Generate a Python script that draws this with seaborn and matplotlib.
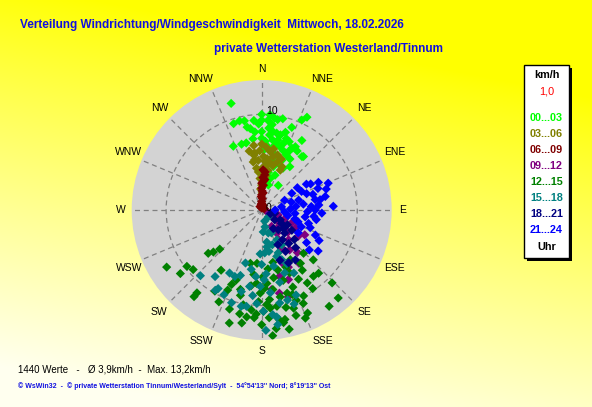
import numpy as np
import pandas as pd
import matplotlib
matplotlib.use("Agg")
import matplotlib.pyplot as plt
import seaborn as sns
from matplotlib.patches import Rectangle

# hour groups and their colours (as in the legend)
hour_labels = ["00...03", "03...06", "06...09", "09...12",
               "12...15", "15...18", "18...21", "21...24"]
hour_colors = ["#00ff00", "#808000", "#800000", "#800080",
               "#008000", "#008080", "#000080", "#0000ff"]
compass = ["N", "NNE", "NE", "ENE", "E", "ESE", "SE", "SSE",
           "S", "SSW", "SW", "WSW", "W", "WNW", "NW", "NNW"]

# wind direction (deg) and speed (km/h) per hour group
dir_00 = [344, 342, 346, 349, 350, 355, 0, 5, 0, 4, 10, 13, 24, 26, 336, 343, 347, 353, 355, 0,
          0, 5, 8, 11, 14, 13, 19, 26, 28, 30, 37, 33, 27, 34, 22, 14, 9, 4, 15, 15,
          38, 31, 15, 6, 9, 12, 16, 18, 20, 7, 3, 17, 22, 24, 19, 11, 25, 20, 352, 358,
          2, 29, 10, 21, 8]
spd_00 = [11.6, 9.5, 9.6, 9.5, 8.8, 9.4, 10.0, 10.0, 9.4, 9.4, 9.6, 9.8, 10.3, 10.8, 7.3, 7.2, 7.2, 7.5, 8.2, 8.2,
          7.5, 8.6, 8.3, 8.2, 8.1, 7.5, 7.9, 7.2, 7.5, 8.4, 7.0, 5.4, 4.9, 3.1, 5.6, 5.9, 6.5, 6.8, 4.7, 3.4,
          7.1, 7.2, 2.7, 7.9, 7.4, 7.0, 6.9, 7.3, 6.6, 9.0, 7.2, 8.5, 7.7, 6.3, 5.2, 5.3, 6.8, 9.2, 8.6, 9.0,
          6.3, 6.1, 4.0, 3.9, 9.7]

dir_03 = [353, 353, 4, 8, 12, 25, 353, 357, 0, 356, 4, 9, 350, 25, 352, 358, 2, 6, 10, 355,
          1, 14, 18, 359, 3, 7, 352, 348, 0, 5, 16, 357, 2, 21, 11]
spd_03 = [6.8, 6.0, 6.6, 6.2, 5.7, 4.6, 4.4, 3.3, 2.6, 5.2, 5.1, 4.2, 5.1, 5.0, 5.3, 6.2, 5.6, 5.4, 5.0, 4.0,
          4.4, 4.8, 5.3, 3.8, 3.0, 3.6, 5.8, 6.3, 6.9, 4.6, 6.0, 2.2, 1.8, 5.7, 6.5]

dir_06 = [2, 5, 3, 0, 0, 0, 5, 5, 333, 0, 0, 90, 2, 1, 3, 355, 4, 6, 358, 0, 20, 60]
spd_06 = [4.2, 3.7, 3.0, 2.3, 1.6, 0.9, 4.0, 1.8, 0.4, 2.8, 0.7, 0.4, 3.4, 2.0, 1.2, 0.6, 2.6, 3.2, 1.4, 0.2, 0.5, 0.3]

dir_09 = [107, 114, 126, 145, 159, 159, 173, 149, 147, 120, 116, 106, 130, 138, 152, 155, 140, 118, 165, 134,
          125, 150, 163, 168, 145, 110, 120]
spd_09 = [1.8, 3.4, 4.7, 5.1, 5.9, 7.8, 8.4, 2.0, 2.9, 5.2, 0.8, 1.3, 3.6, 4.2, 4.5, 6.6, 5.8, 4.0, 7.2, 2.5,
          2.2, 3.6, 9.5, 8.9, 6.8, 2.6, 1.5]

dir_12 = [239, 232, 229, 233, 231, 229, 227, 218, 218, 205, 196, 192, 188, 184, 175, 173, 168, 167, 158, 156,
          147, 156, 162, 171, 175, 179, 191, 194, 202, 203, 192, 185, 176, 172, 168, 163, 158, 159, 171, 175,
          181, 184, 179, 163, 156, 144, 136, 142, 148, 139, 145, 136, 138, 134, 165, 170, 178, 182, 186, 198,
          210, 200, 188, 166, 160, 152, 150, 176, 169, 180, 162, 154, 174, 187, 195, 214, 157, 146, 168, 177,
          183, 190]
spd_12 = [11.6, 10.8, 9.5, 9.8, 7.2, 6.7, 6.0, 11.5, 11.0, 10.6, 12.3, 11.1, 11.3, 11.3, 13.2, 12.5, 11.7, 12.8, 12.2, 11.8,
          9.8, 10.7, 10.8, 11.6, 10.3, 10.6, 10.1, 9.2, 8.4, 9.1, 5.7, 5.6, 7.7, 8.4, 9.3, 9.1, 8.7, 10.1, 10.2, 9.4,
          8.7, 7.7, 7.0, 7.7, 7.2, 6.9, 6.3, 8.8, 9.0, 12.2, 12.3, 10.6, 8.9, 7.5, 6.5, 7.2, 8.2, 9.6, 10.5, 10.9,
          9.8, 7.8, 8.0, 10.5, 9.4, 8.2, 6.0, 11.3, 12.0, 12.0, 11.6, 10.0, 6.2, 6.8, 8.6, 7.6, 6.5, 7.6, 5.6, 9.9,
          10.9, 12.0]

dir_15 = [223, 209, 207, 202, 198, 198, 189, 189, 180, 176, 172, 162, 155, 153, 172, 172, 176, 181, 183, 174,
          169, 164, 158, 171, 135, 157, 169, 164, 153, 159, 158, 210, 204, 192, 168, 178, 185, 166, 160, 194,
          186, 179, 170, 163, 165, 176, 150, 215, 190, 174, 197, 161, 182, 178]
spd_15 = [9.4, 9.4, 7.4, 7.5, 7.2, 10.2, 10.2, 8.1, 5.7, 4.5, 3.9, 5.1, 6.2, 7.4, 11.3, 12.1, 6.7, 8.0, 9.8, 8.7,
          9.9, 9.8, 9.6, 3.4, 1.0, 2.6, 1.8, 2.5, 3.5, 4.8, 5.6, 9.7, 9.7, 10.3, 6.0, 7.3, 7.0, 7.8, 7.0, 8.8,
          9.0, 10.6, 4.4, 3.8, 1.2, 2.3, 4.2, 8.5, 6.3, 11.0, 5.8, 10.4, 4.6, 12.6]

dir_18 = [104, 124, 135, 141, 140, 127, 124, 146, 153, 130, 145, 150, 138, 118, 155, 132, 113, 160, 148, 120]
spd_18 = [1.4, 2.5, 3.4, 4.5, 2.7, 1.7, 3.8, 6.3, 6.2, 3.0, 3.8, 5.0, 5.3, 2.2, 4.0, 4.6, 1.0, 5.6, 2.3, 3.1]

dir_21 = [60, 72, 87, 69, 61, 75, 86, 81, 90, 99, 106, 126, 126, 122, 113, 96, 93, 79, 67, 78,
          65, 70, 82, 88, 92, 100, 105, 110, 115, 85, 75, 64, 58, 95, 102, 118, 68, 80, 108, 73,
          90, 62, 97, 84, 130]
spd_21 = [5.4, 7.1, 7.5, 6.3, 3.6, 4.0, 5.2, 2.1, 1.4, 4.6, 5.1, 5.8, 7.3, 4.5, 4.5, 3.5, 6.3, 5.7, 2.6, 6.8,
          4.6, 5.0, 4.4, 3.0, 4.8, 5.8, 3.6, 5.4, 6.2, 6.0, 3.2, 6.6, 4.4, 2.4, 2.8, 6.8, 7.5, 6.2, 4.0, 5.6,
          5.6, 5.8, 5.5, 3.6, 6.5]

all_dirs = [dir_00, dir_03, dir_06, dir_09, dir_12, dir_15, dir_18, dir_21]
all_spds = [spd_00, spd_03, spd_06, spd_09, spd_12, spd_15, spd_18, spd_21]

frames = []
for lab, d, s in zip(hour_labels, all_dirs, all_spds):
    frames.append(pd.DataFrame({"theta": np.deg2rad(d), "speed": s, "hour": lab}))
df = pd.concat(frames, ignore_index=True)

W, H = 592, 407
fig = plt.figure(figsize=(W / 100, H / 100), dpi=100)

# yellow background fading to cream towards the bottom left
bg = fig.add_axes([0, 0, 1, 1])
yy, xx = np.mgrid[0:1:200j, 0:1:300j]
t = np.clip(1.05 * yy + 0.3 * (1 - xx) - 0.25, 0, 1) ** 0.9
img = np.dstack([np.ones_like(t), np.ones_like(t), 0.94 * t])
bg.imshow(img, aspect="auto", extent=[0, 1, 0, 1], origin="upper")
bg.axis("off")

ax = fig.add_axes([131.7 / W, (H - 340) / H, 260 / W, 260 / H], projection="polar")
ax.set_theta_zero_location("N")
ax.set_theta_direction(-1)
ax.set_facecolor("#d3d3d3")

sns.scatterplot(data=df, x="theta", y="speed", hue="hour", hue_order=hour_labels,
                palette=dict(zip(hour_labels, hour_colors)), marker="D", s=22,
                linewidth=0, legend=False, ax=ax, zorder=3)

rmax = 13.6
ax.set_ylim(0, rmax)
ax.set_xlabel("")
ax.set_ylabel("")
ax.spines["polar"].set_visible(False)
ax.set_xticks(np.deg2rad(np.arange(0, 360, 22.5)))
ax.set_xticklabels([])
ax.set_yticks([10])
ax.set_yticklabels([])
ax.grid(True, color="#808080", linestyle=(0, (4, 3)), linewidth=0.9)
ax.set_axisbelow(True)

font = "Liberation Sans"
# label angles as placed in the original (slightly spread from the 22.5 deg spokes)
label_angles = [0, 24.8, 45, 66.5, 90, 113.5, 135, 155.2,
                180, 204.8, 225, 246.5, 270, 293.5, 315, 335.2]
for i, name in enumerate(compass):
    r_lab = 14.7 if i % 4 == 0 else 15.15
    ax.text(np.deg2rad(label_angles[i]), r_lab, name, ha="center", va="center",
            fontsize=7.5, family=font, color="black")
ax.text(np.deg2rad(6), 10.45, "10", ha="center", va="center", fontsize=7.5, family=font, zorder=4)
ax.text(np.deg2rad(76), 0.7, "0", ha="center", va="center", fontsize=7.5, family=font, zorder=4)

# titles
fig.text(20 / W, 1 - 25 / H, "Verteilung Windrichtung/Windgeschwindigkeit  Mittwoch, 18.02.2026",
         ha="left", va="center", fontsize=8.45, fontweight="bold", color="#1010e0", family=font)
fig.text(443 / W, 1 - 49 / H, "private Wetterstation Westerland/Tinnum",
         ha="right", va="center", fontsize=8.5, fontweight="bold", color="#1010e0", family=font)

# legend box with shadow
fig.patches.append(Rectangle((527 / W, (H - 261) / H), 45 / W, 193 / H, transform=fig.transFigure,
                             facecolor="black", edgecolor="none", zorder=1))
fig.patches.append(Rectangle((524 / W, (H - 258) / H), 45 / W, 193 / H, transform=fig.transFigure,
                             facecolor="white", edgecolor="black", linewidth=1, zorder=2))
lx = 546.5 / W
fig.text(lx, 1 - 75 / H, "km/h", ha="center", va="center", fontsize=7.8, fontweight="bold", family=font)
fig.text(lx, 1 - 91 / H, "1,0", ha="center", va="center", fontsize=7.8, color="red", family=font)
for i, (lab, col) in enumerate(zip(hour_labels, hour_colors)):
    fig.text(lx, 1 - (118 + 16 * i) / H, lab, ha="center", va="center",
             fontsize=7.8, fontweight="bold", color=col, family=font)
fig.text(lx, 1 - 246.5 / H, "Uhr", ha="center", va="center", fontsize=7.8, fontweight="bold", family=font)

# footer texts
fig.text(18 / W, 1 - 369.5 / H, "1440 Werte   -   \u00d8 3,9km/h  -  Max. 13,2km/h",
         ha="left", va="center", fontsize=7, family=font, color="black")
fig.text(18 / W, 1 - 386 / H,
         "\u00a9 WsWin32  -  \u00a9 private Wetterstation Tinnum/Westerland/Sylt  -  54\u00b054'13'' Nord; 8\u00b019'13'' Ost",
         ha="left", va="center", fontsize=5, fontweight="bold", family=font, color="#1010e0")

fig.savefig("out.png", dpi=100)
